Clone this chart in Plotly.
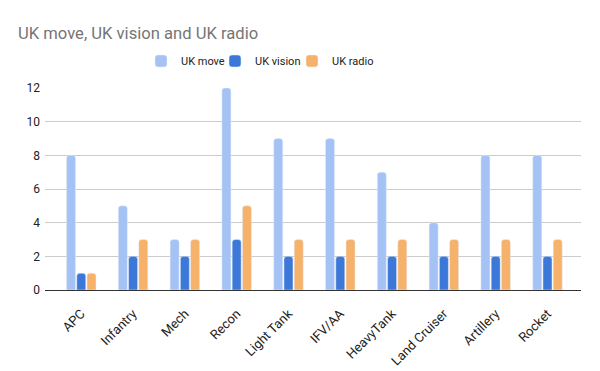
import plotly.graph_objects as go

categories = ["APC", "Infantry", "Mech", "Recon", "Light Tank", "IFV/AA",
              "HeavyTank", "Land Cruiser", "Artillery", "Rocket"]
uk_move = [8, 5, 3, 12, 9, 9, 7, 4, 8, 8]
uk_vision = [1, 2, 2, 3, 2, 2, 2, 2, 2, 2]
uk_radio = [1, 3, 3, 5, 3, 3, 3, 3, 3, 3]
y_ticks = [0, 2, 4, 6, 8, 10, 12]

fig = go.Figure()
fig.add_bar(x=categories, y=uk_move, name="UK move", marker_color="#a4c2f4", legend="legend")
fig.add_bar(x=categories, y=uk_vision, name="UK vision", marker_color="#3c78d8", legend="legend2")
fig.add_bar(x=categories, y=uk_radio, name="UK radio", marker_color="#f6b26b", legend="legend3")

leg_common = dict(orientation="h", xref="container", yref="container",
                  xanchor="left", yanchor="middle", y=1 - 61 / 371,
                  font=dict(size=11, color="#222222"), bgcolor="rgba(0,0,0,0)")

fig.update_layout(
    width=600, height=371,
    paper_bgcolor="white", plot_bgcolor="white",
    font=dict(family="Roboto, Arial, sans-serif", size=12, color="#222222"),
    title=dict(text="UK move, UK vision and UK radio", x=0.03, xanchor="left",
               y=0.91, yanchor="middle",
               font=dict(size=16.6, color="#757575", family="Roboto, Arial, sans-serif")),
    margin=dict(l=45, r=19, t=88, b=81, autoexpand=False),
    barmode="group", bargap=0.407, bargroupgap=0.12,
    barcornerradius=3,
    legend=dict(leg_common, x=141 / 600),
    legend2=dict(leg_common, x=215 / 600),
    legend3=dict(leg_common, x=292 / 600),
    showlegend=True,
)
fig.update_xaxes(tickangle=-45, showgrid=False, showline=True, linecolor="#333333",
                 linewidth=1, ticks="", automargin=False, range=[-0.7, 9.647],
                 ticklabelstandoff=10,
                 tickfont=dict(size=13, color="#222222"))
fig.update_yaxes(range=[0, 12], tickvals=y_ticks, showgrid=True, gridcolor="#cccccc",
                 zeroline=False, ticks="", automargin=False, ticklabelstandoff=4,
                 tickfont=dict(size=12, color="#222222"))

fig.write_html("out.html", config={"displayModeBar": False},
               post_script="document.body.style.margin='0';")
